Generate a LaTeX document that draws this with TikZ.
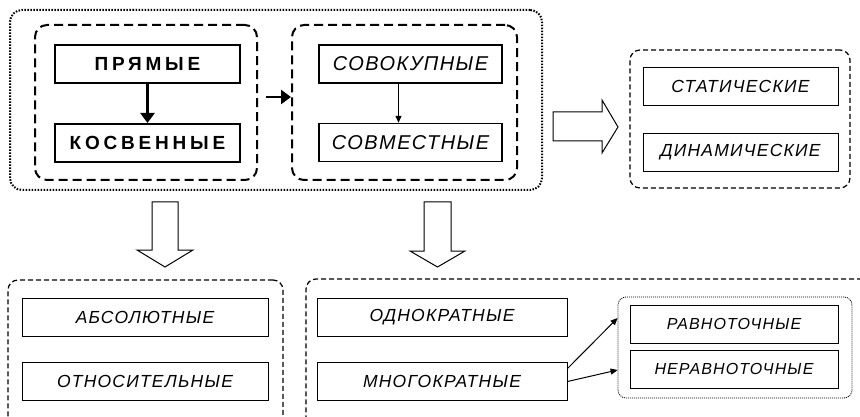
\documentclass[tikz,border=0pt]{standalone}
\usepackage{fontspec}
\setmainfont{Liberation Sans}[LetterSpace=7]
\newfontfamily\widebold{Liberation Sans}[LetterSpace=20]
\usetikzlibrary{arrows.meta,positioning}

\begin{document}
\begin{tikzpicture}[
x=1pt,
y=-1pt,
bigbox/.style={
rectangle,
draw,
line width=2pt,
minimum width=185pt,
minimum height=38pt,
inner sep=0pt,
font=\widebold\fontsize{19}{23}\selectfont\bfseries
},
midbox/.style={
rectangle,
draw,
line width=1.6pt,
minimum width=183pt,
minimum height=38pt,
inner sep=0pt,
font=\fontsize{20}{24}\selectfont\itshape
},
smallbox/.style={
rectangle,
draw,
line width=1pt,
minimum height=38pt,
inner sep=0pt,
font=\fontsize{17.5}{21}\selectfont\itshape
},
dashgrp/.style={
rectangle,
draw,
line width=2pt,
dash pattern=on 9pt off 5pt,
rounded corners=12pt
},
thindash/.style={
rectangle,
draw,
line width=1.2pt,
dash pattern=on 5pt off 3pt,
rounded corners=10pt
},
dotgrp/.style={
rectangle,
draw,
line width=2pt,
dash pattern=on 1.5pt off 1.5pt,
rounded corners=12pt
},
thindot/.style={
rectangle,
draw,
line width=0.8pt,
dash pattern=on 1pt off 1pt,
rounded corners=8pt
},
thickarrow/.style={
-{Triangle[length=10pt,width=14pt]},
line width=2.5pt
},
thinarrow/.style={
-{Triangle[length=7pt,width=6pt]},
line width=1pt
},
blockarrow/.style={
draw,
line width=1pt,
fill=white
}
]

\useasboundingbox (0,0) rectangle (860,417);
\clip (0,0) rectangle (860,417);

% upper group
\node[dotgrp, minimum width=532pt, minimum height=180pt] (outer) at (276,100) {};
\node[dashgrp, minimum width=222pt, minimum height=155pt] (grpdir) at (146,102.5) {};
\node[dashgrp, minimum width=225pt, minimum height=155pt] (grpjoint) at (404.5,102.5) {};

\node[bigbox] (prjamye) at (147.5,64) {ПРЯМЫЕ};
\node[bigbox, below=39pt of prjamye] (kosv) {КОСВЕННЫЕ};
\node[midbox] (sovok) at (410.5,64) {СОВОКУПНЫЕ};
\node[midbox, below=39pt of sovok] (sovm) {СОВМЕСТНЫЕ};

\draw[thickarrow] (prjamye) -- (kosv);
\draw[thinarrow] ([xshift=-12pt]sovok.south) -- ([xshift=-12pt]sovm.north);
\coordinate (jstart) at (266,97);
\draw[thickarrow] (jstart) -- (jstart -| grpjoint.west);

% static / dynamic
\node[thindash, minimum width=220pt, minimum height=138pt] (grptime) at (740,119) {};
\node[smallbox, minimum width=195pt] (stat) at (740.5,86.5) {СТАТИЧЕСКИЕ};
\node[smallbox, minimum width=195pt, below=27pt of stat] (dinam) {ДИНАМИЧЕСКИЕ};

\path[blockarrow] (553,112) -- (602,112) -- (602,100) -- (618,127)
  -- (602,153) -- (602,141) -- (553,141) -- cycle;

% lower left
\path[blockarrow] (152,202) -- (178,202) -- (178,250) -- (193,250)
  -- (165,267) -- (137,250) -- (152,250) -- cycle;
\node[thindash, minimum width=275pt, minimum height=160pt] (grpacc) at (145.5,360) {};
\node[smallbox, minimum width=246pt] (abs) at (145,317.5) {АБСОЛЮТНЫЕ};
\node[smallbox, minimum width=246pt, below=25pt of abs] (otn) {ОТНОСИТЕЛЬНЫЕ};

% lower right
\path[blockarrow] (424,202) -- (451,202) -- (451,251) -- (465,251)
  -- (437.5,267) -- (410,251) -- (424,251) -- cycle;
\node[thindash, minimum width=574pt, minimum height=160pt] (grpmult) at (593,359) {};
\node[smallbox, minimum width=250pt] (odno) at (442,317.5) {ОДНОКРАТНЫЕ};
\node[smallbox, minimum width=250pt, below=25pt of odno] (mnogo) {МНОГОКРАТНЫЕ};

\node[thindot, minimum width=234pt, minimum height=101pt] (grpprec) at (735,347.5) {};
\node[smallbox, minimum width=208pt, font=\fontsize{16}{19}\selectfont\itshape] (ravno) at (734,324) {РАВНОТОЧНЫЕ};
\node[smallbox, minimum width=208pt, font=\fontsize{16}{19}\selectfont\itshape, below=6pt of ravno] (neravno) {НЕРАВНОТОЧНЫЕ};

\draw[thinarrow] ([yshift=13pt]mnogo.east) -- (grpprec.west |- 0,318);
\draw[thinarrow] (mnogo.east) -- (grpprec.west |- 0,370);

\end{tikzpicture}
\end{document}
